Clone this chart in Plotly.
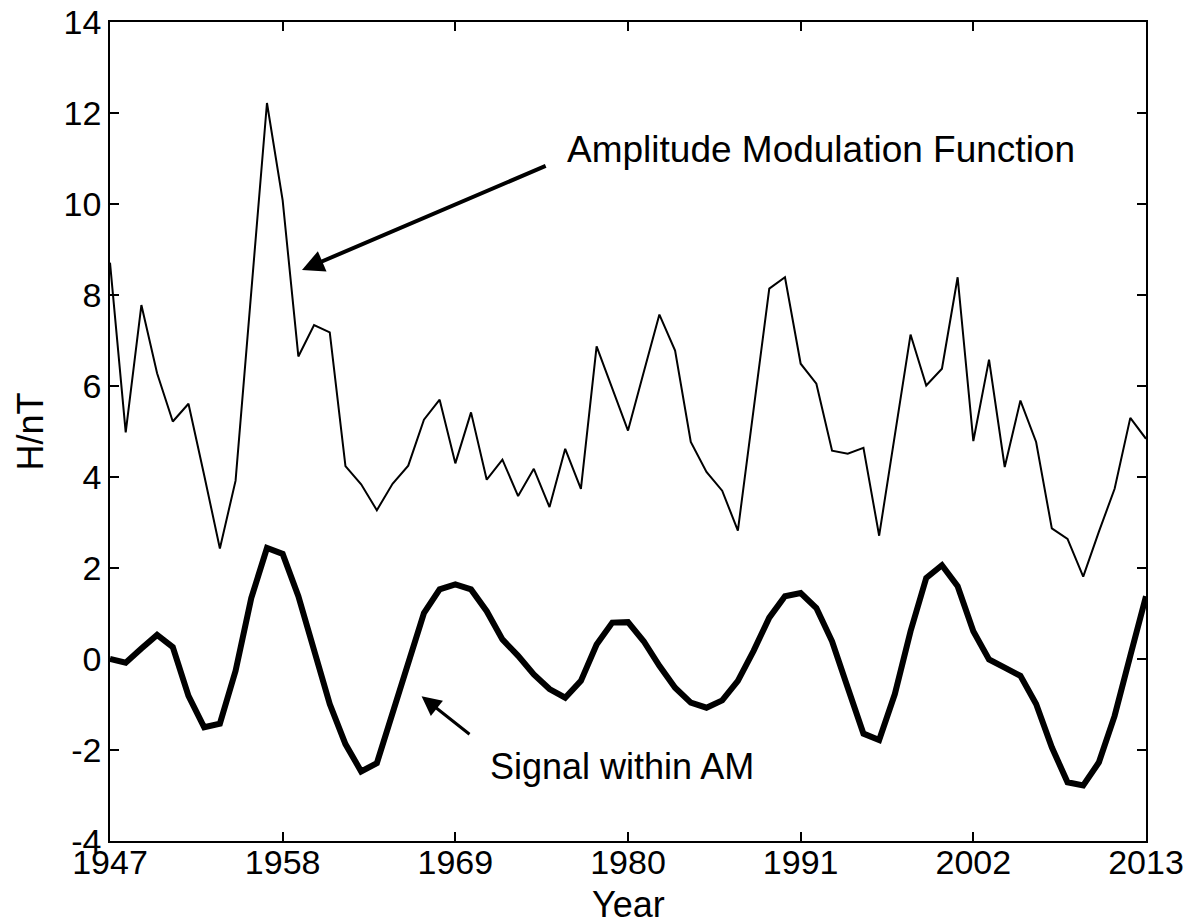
import plotly.graph_objects as go

years = list(range(1947, 2014))

am_values = [
    8.71, 4.98, 7.78, 6.28, 5.22, 5.61, 4.04, 2.43, 3.92, 8.09,
    12.22, 10.08, 6.65, 7.34, 7.18, 4.24, 3.84, 3.27, 3.85, 4.25,
    5.26, 5.70, 4.30, 5.42, 3.94, 4.38, 3.58, 4.18, 3.34, 4.62,
    3.74, 6.87, 5.94, 5.02, 6.30, 7.57, 6.78, 4.77, 4.11, 3.70,
    2.82, 5.53, 8.14, 8.39, 6.49, 6.05, 4.58, 4.51, 4.64, 2.71,
    4.96, 7.13, 6.01, 6.38, 8.39, 4.79, 6.58, 4.22, 5.68, 4.77,
    2.87, 2.64, 1.81, 2.80, 3.74, 5.30, 4.84,
]

signal_values = [
    0.00, -0.08, 0.23, 0.53, 0.26, -0.81, -1.50, -1.42, -0.26, 1.34,
    2.44, 2.31, 1.38, 0.18, -0.99, -1.87, -2.47, -2.29, -1.21, -0.04,
    1.01, 1.53, 1.64, 1.53, 1.05, 0.43, 0.07, -0.34, -0.66, -0.85,
    -0.48, 0.32, 0.80, 0.81, 0.39, -0.15, -0.63, -0.96, -1.07, -0.91,
    -0.48, 0.18, 0.91, 1.38, 1.45, 1.12, 0.39, -0.63, -1.64, -1.78,
    -0.77, 0.61, 1.78, 2.06, 1.60, 0.61, -0.01, -0.19, -0.37, -0.99,
    -1.94, -2.71, -2.78, -2.27, -1.25, 0.07, 1.38,
]

x_ticks = [1947, 1958, 1969, 1980, 1991, 2002, 2013]
y_ticks = [-4, -2, 0, 2, 4, 6, 8, 10, 12, 14]

FONT = "Liberation Sans, Arial, sans-serif"

fig = go.Figure()
fig.add_trace(go.Scatter(x=years, y=am_values, mode="lines",
                         line=dict(color="black", width=2),
                         name="Amplitude Modulation Function", showlegend=False))
fig.add_trace(go.Scatter(x=years, y=signal_values, mode="lines",
                         line=dict(color="black", width=6),
                         name="Signal within AM", showlegend=False))

fig.add_annotation(x=1959.23, y=8.55, ax=1974.85, ay=10.85,
                   xref="x", yref="y", axref="x", ayref="y",
                   text="", showarrow=True, arrowhead=2, arrowsize=1.1,
                   arrowwidth=4, arrowcolor="black")
fig.add_annotation(x=1966.85, y=-0.82, ax=1970.0, ay=-1.68,
                   xref="x", yref="y", axref="x", ayref="y",
                   text="", showarrow=True, arrowhead=2, arrowsize=1.3,
                   arrowwidth=3, arrowcolor="black")
fig.add_annotation(x=1976.0, y=11.2, xref="x", yref="y",
                   text="Amplitude Modulation Function", showarrow=False,
                   xanchor="left", yanchor="middle",
                   font=dict(family=FONT, size=37, color="black"))
fig.add_annotation(x=1971.1, y=-2.36, xref="x", yref="y",
                   text="Signal within AM", showarrow=False,
                   xanchor="left", yanchor="middle",
                   font=dict(family=FONT, size=36, color="black"))

# axis titles
fig.add_annotation(x=0.5, y=-0.078, xref="paper", yref="paper",
                   text="Year", showarrow=False, xanchor="center", yanchor="middle",
                   font=dict(family=FONT, size=36, color="black"))
fig.add_annotation(x=-0.0772, y=0.5, xref="paper", yref="paper",
                   text="H/nT", showarrow=False, xanchor="center", yanchor="middle",
                   textangle=-90,
                   font=dict(family=FONT, size=36, color="black"))

axis_common = dict(showgrid=False, zeroline=False, showline=True,
                   linecolor="black", linewidth=1.5, mirror="ticks",
                   ticks="inside", ticklen=9, tickwidth=1.5, tickcolor="black",
                   automargin=False,
                   tickfont=dict(family=FONT, size=34, color="black"))

fig.update_layout(
    width=1191, height=924,
    margin=dict(l=110, r=45, t=22, b=83),
    paper_bgcolor="white", plot_bgcolor="white",
    font=dict(family=FONT, color="black"),
    xaxis=dict(range=[1947, 2013], tickvals=x_ticks,
               ticktext=[str(t) for t in x_ticks],
               ticklabelstandoff=-10,
               **axis_common),
    yaxis=dict(range=[-4, 14], tickvals=y_ticks,
               ticktext=[str(t) for t in y_ticks],
               **axis_common),
)

# remove the page's default body margin so the figure sits at the window's corner
fig.write_html("out.html",
               config={"displayModeBar": False},
               post_script="document.body.style.margin='0';document.body.style.overflow='hidden';")
